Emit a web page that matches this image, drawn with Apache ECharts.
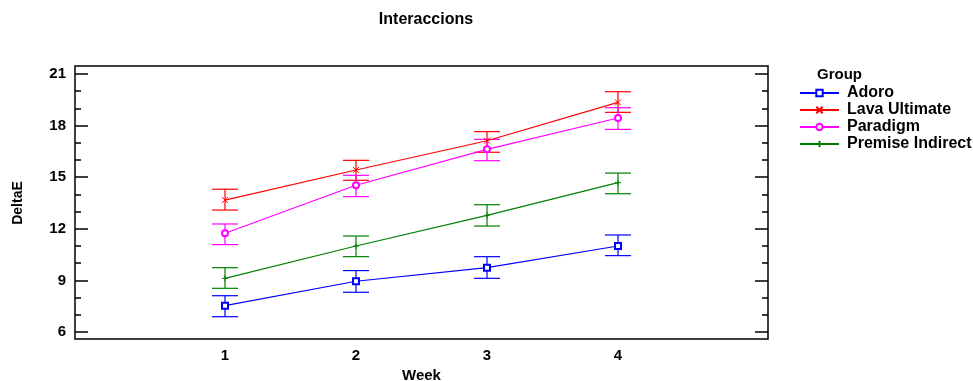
<!DOCTYPE html>
<html>
<head>
<meta charset="utf-8">
<script src="https://cdn.jsdelivr.net/npm/echarts@6/dist/echarts.min.js"></script>
<style>
  html, body { margin: 0; padding: 0; background: #fff; }
  #chart { width: 973px; height: 381px; }
</style>
</head>
<body>
<div id="chart"></div>
<script>
const weeks = [1, 2, 3, 4];
const yTicks = [6, 9, 12, 15, 18, 21];

const adoroMean = [7.53, 8.95, 9.74, 11.0];
const adoroLow = [6.89, 8.31, 9.12, 10.44];
const adoroHigh = [8.11, 9.57, 10.38, 11.64];

const lavaMean = [13.67, 15.42, 17.12, 19.35];
const lavaLow = [13.09, 14.82, 16.45, 18.77];
const lavaHigh = [14.3, 15.98, 17.65, 19.97];

const paradigmMean = [11.74, 14.53, 16.62, 18.44];
const paradigmLow = [11.08, 13.87, 15.96, 17.78];
const paradigmHigh = [12.28, 15.11, 17.2, 19.04];

const premiseMean = [9.12, 11.0, 12.78, 14.68];
const premiseLow = [8.54, 10.38, 12.16, 14.04];
const premiseHigh = [9.74, 11.58, 13.4, 15.24];

const groups = [
  { name: 'Adoro', color: '#0000ff', symbol: 'emptyRect', mean: adoroMean, low: adoroLow, high: adoroHigh },
  { name: 'Lava Ultimate', color: '#ff0000', symbol: 'path://M0,0L10,10M10,0L0,10', mean: lavaMean, low: lavaLow, high: lavaHigh },
  { name: 'Paradigm', color: '#ff00ff', symbol: 'emptyCircle', mean: paradigmMean, low: paradigmLow, high: paradigmHigh },
  { name: 'Premise Indirect', color: '#008000', symbol: 'path://M5,0L5,10M0,5L10,5', mean: premiseMean, low: premiseLow, high: premiseHigh },
];

const font = 'Liberation Sans, Arial, sans-serif';
const chart = echarts.init(document.getElementById('chart'));

const series = [];
groups.forEach((g) => {
  series.push({
    name: g.name,
    type: 'line',
    data: weeks.map((w, i) => [w, g.mean[i]]),
    symbol: g.symbol,
    symbolSize: 6,
    showSymbol: true,
    lineStyle: { color: g.color, width: 1.2 },
    itemStyle: { color: g.color, borderColor: g.color, borderWidth: 1 },
    emphasis: { disabled: true },
    z: 3,
  });
  // error bars
  series.push({
    name: g.name + ' err',
    type: 'custom',
    data: weeks.map((w, i) => [w, g.low[i], g.high[i]]),
    renderItem: (params, api) => {
      const lo = api.coord([api.value(0), api.value(1)]);
      const hi = api.coord([api.value(0), api.value(2)]);
      const hw = 13;
      const st = { stroke: g.color, lineWidth: 1.2 };
      return {
        type: 'group',
        children: [
          { type: 'line', shape: { x1: lo[0], y1: lo[1], x2: hi[0], y2: hi[1] }, style: st },
          { type: 'line', shape: { x1: lo[0] - hw, y1: lo[1], x2: lo[0] + hw, y2: lo[1] }, style: st },
          { type: 'line', shape: { x1: hi[0] - hw, y1: hi[1], x2: hi[0] + hw, y2: hi[1] }, style: st },
        ],
      };
    },
    z: 2,
  });
});

const tickStyle = { color: '#000', width: 1.5 };

const option = {
  animation: false,
  title: [
    {
      text: 'Interaccions',
      left: 421,
      top: 7,
      textAlign: 'center',
      textStyle: { fontFamily: font, fontSize: 16, fontWeight: 'bold', color: '#000' },
    },
    {
      text: 'Group',
      left: 812,
      top: 62,
      textStyle: { fontFamily: font, fontSize: 15, fontWeight: 'bold', color: '#000' },
    },
  ],
  legend: {
    orient: 'vertical',
    left: 794,
    top: 80,
    itemWidth: 39,
    itemHeight: 8,
    itemGap: 1,
    data: groups.map((g) => g.name),
    textStyle: { fontFamily: font, fontSize: 16, fontWeight: 'bold', color: '#000', padding: [0, 0, 0, 3] },
  },
  grid: { left: 75, right: 205, top: 74, bottom: 49, containLabel: false, outerBoundsMode: 'none' },
  xAxis: {
    type: 'value',
    min: -0.145,
    max: 5.145,
    name: 'Week',
    nameLocation: 'middle',
    nameGap: 32,
    nameTextStyle: { fontFamily: font, fontSize: 15, fontWeight: 'bold', color: '#000' },
    axisLine: { show: false, onZero: false },
    axisTick: { show: false },
    splitLine: { show: false },
    axisLabel: {
      margin: 16,
      fontFamily: font,
      fontSize: 15,
      fontWeight: 'bold',
      color: '#000',
      customValues: weeks,
      formatter: (v) => String(v),
    },
  },
  yAxis: [
    {
      type: 'value',
      min: yTicks[0],
      max: yTicks[yTicks.length - 1],
      interval: 3,
      name: 'DeltaE',
      nameLocation: 'middle',
      nameGap: 50,
      nameTextStyle: { fontFamily: font, fontSize: 14, fontWeight: 'bold', color: '#000' },
      axisLine: { show: false, onZero: false },
      axisTick: { show: true, inside: true, length: 13, lineStyle: tickStyle },
      minorTick: { show: true, splitNumber: 3, length: 6, lineStyle: tickStyle },
      splitLine: { show: false },
      axisLabel: { margin: 9, fontFamily: font, fontSize: 15, fontWeight: 'bold', color: '#000' },
    },
    {
      type: 'value',
      position: 'right',
      min: yTicks[0],
      max: yTicks[yTicks.length - 1],
      interval: 3,
      axisLine: { show: false, onZero: false },
      axisTick: { show: true, inside: true, length: 13, lineStyle: tickStyle },
      minorTick: { show: true, splitNumber: 3, length: 6, lineStyle: tickStyle },
      splitLine: { show: false },
      axisLabel: { show: false },
    },
  ],
  graphic: [
    {
      type: 'rect',
      shape: { x: 75, y: 66, width: 693, height: 273 },
      style: { fill: 'none', stroke: '#000', lineWidth: 1.5 },
      z: 10,
    },
  ],
  series: series,
};

chart.setOption(option);
</script>
</body>
</html>
